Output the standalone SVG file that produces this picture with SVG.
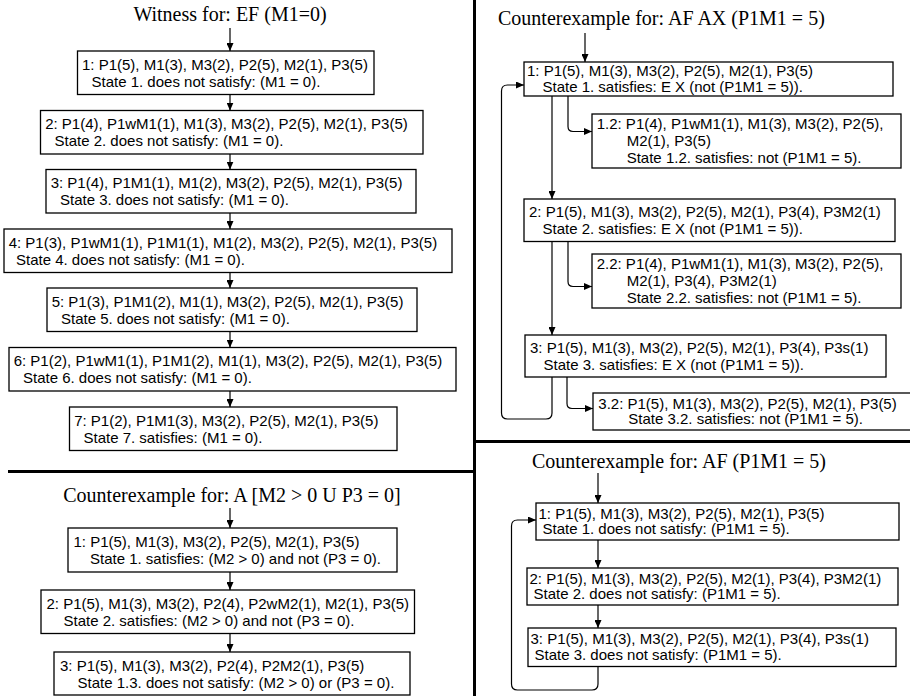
<svg xmlns="http://www.w3.org/2000/svg" width="910" height="696" viewBox="0 0 910 696">
<defs>
<marker id="ah" markerWidth="8" markerHeight="7" refX="8" refY="3.5" orient="auto" markerUnits="userSpaceOnUse">
<path d="M0,0 L8,3.5 L0,7 z" fill="#000"/>
</marker>
<style>
.box{fill:#fff;stroke:#000;stroke-width:1.3}
.t{font-family:"Liberation Sans",Arial,Helvetica,sans-serif;font-size:15px;fill:#000}
.title{font-family:"Liberation Serif","Times New Roman",serif;font-size:20px;fill:#000}
.a{fill:none;stroke:#000;stroke-width:1.2;marker-end:url(#ah)}
.div{stroke:#000;stroke-width:3;fill:none}
</style>
</defs>
<rect width="910" height="696" fill="#fff"/>

<g id="dividers">
<line class="div" x1="474.5" y1="0" x2="474.5" y2="696"/>
<line class="div" x1="8" y1="471.5" x2="474.5" y2="471.5"/>
<line class="div" x1="474.5" y1="441.5" x2="910" y2="441.5"/>
</g>

<g id="titles">
<text class="title" x="230" y="21" text-anchor="middle">Witness for: EF (M1=0)</text>
<text class="title" x="232" y="502" text-anchor="middle">Counterexample for: A [M2 &gt; 0 U P3 = 0]</text>
<text class="title" x="498" y="25">Counterexample for: AF AX (P1M1 = 5)</text>
<text class="title" x="532" y="468">Counterexample for: AF (P1M1 = 5)</text>
</g>

<g id="connectors">
<path class="a" d="M230,28 V51"/>
<path class="a" d="M230,94.5 V110.5"/>
<path class="a" d="M230,154 V169.5"/>
<path class="a" d="M230,213 V229"/>
<path class="a" d="M230,272.5 V288"/>
<path class="a" d="M230,331.5 V347.5"/>
<path class="a" d="M230,391 V407"/>
<path class="a" d="M230,508 V528"/>
<path class="a" d="M230,572 V590"/>
<path class="a" d="M230,633.5 V652"/>
<path class="a" d="M585,33 V62"/>
<path class="a" d="M552,96 V199"/>
<path class="a" d="M552,241.5 V335"/>
<path class="a" d="M568,96 V126.5 Q568,131.5 573,131.5 H592"/>
<path class="a" d="M568,241.5 V281.5 Q568,286.5 573,286.5 H592"/>
<path class="a" d="M567,377 V403.5 Q567,408.5 572,408.5 H593"/>
<path class="a" d="M552,377 V413 Q552,419 546,419 H507.5 Q501.5,419 501.5,413 V91 Q501.5,85 507.5,85 H524"/>
<path class="a" d="M598,473 V503"/>
<path class="a" d="M598,540 V568"/>
<path class="a" d="M598,605 V628"/>
<path class="a" d="M598,666.5 V684 Q598,690 592,690 H517.5 Q511.5,690 511.5,684 V526 Q511.5,520 517.5,520 H536"/>
</g>

<g id="w1"><rect class="box" x="77.5" y="51" width="296.5" height="43.5"/>
<text class="t" x="82" y="69.6">1: P1(5), M1(3), M3(2), P2(5), M2(1), P3(5)</text>
<text class="t" x="91.5" y="86.6">State 1. does not satisfy: (M1 = 0).</text></g>
<g id="w2"><rect class="box" x="40.5" y="110.5" width="382.5" height="43.5"/>
<text class="t" x="45.2" y="129.1">2: P1(4), P1wM1(1), M1(3), M3(2), P2(5), M2(1), P3(5)</text>
<text class="t" x="54.5" y="146.1">State 2. does not satisfy: (M1 = 0).</text></g>
<g id="w3"><rect class="box" x="46" y="169.5" width="370" height="43.5"/>
<text class="t" x="50.7" y="188.1">3: P1(4), P1M1(1), M1(2), M3(2), P2(5), M2(1), P3(5)</text>
<text class="t" x="60" y="205.1">State 3. does not satisfy: (M1 = 0).</text></g>
<g id="w4"><rect class="box" x="4" y="229" width="448" height="43.5"/>
<text class="t" x="8.7" y="247.6">4: P1(3), P1wM1(1), P1M1(1), M1(2), M3(2), P2(5), M2(1), P3(5)</text>
<text class="t" x="16" y="264.6">State 4. does not satisfy: (M1 = 0).</text></g>
<g id="w5"><rect class="box" x="47" y="288" width="370" height="43.5"/>
<text class="t" x="51.7" y="306.6">5: P1(3), P1M1(2), M1(1), M3(2), P2(5), M2(1), P3(5)</text>
<text class="t" x="61" y="323.6">State 5. does not satisfy: (M1 = 0).</text></g>
<g id="w6"><rect class="box" x="9" y="347.5" width="447" height="43.5"/>
<text class="t" x="13.7" y="366.1">6: P1(2), P1wM1(1), P1M1(2), M1(1), M3(2), P2(5), M2(1), P3(5)</text>
<text class="t" x="23" y="383.1">State 6. does not satisfy: (M1 = 0).</text></g>
<g id="w7"><rect class="box" x="69.5" y="407" width="327.5" height="43.5"/>
<text class="t" x="74.2" y="425.6">7: P1(2), P1M1(3), M3(2), P2(5), M2(1), P3(5)</text>
<text class="t" x="83.5" y="442.6">State 7. satisfies: (M1 = 0).</text></g>

<g id="a1"><rect class="box" x="68" y="528" width="329" height="44"/>
<text class="t" x="73.5" y="546.5">1: P1(5), M1(3), M3(2), P2(5), M2(1), P3(5)</text>
<text class="t" x="90" y="563.5">State 1. satisfies: (M2 &gt; 0) and not (P3 = 0).</text></g>
<g id="a2"><rect class="box" x="41" y="590" width="373.5" height="43.5"/>
<text class="t" x="46.5" y="608.5">2: P1(5), M1(3), M3(2), P2(4), P2wM2(1), M2(1), P3(5)</text>
<text class="t" x="63.5" y="625.5">State 2. satisfies: (M2 &gt; 0) and not (P3 = 0).</text></g>
<g id="a3"><rect class="box" x="54" y="652" width="356" height="43"/>
<text class="t" x="60" y="670.5">3: P1(5), M1(3), M3(2), P2(4), P2M2(1), P3(5)</text>
<text class="t" x="77.5" y="687.5">State 1.3. does not satisfy: (M2 &gt; 0) or (P3 = 0).</text></g>

<g id="r1"><rect class="box" x="524" y="62" width="369" height="34"/>
<text class="t" x="527" y="75.5">1: P1(5), M1(3), M3(2), P2(5), M2(1), P3(5)</text>
<text class="t" x="542.5" y="91.5">State 1. satisfies: E X (not (P1M1 = 5)).</text></g>
<g id="r1-2"><rect class="box" x="592" y="114" width="309" height="54"/>
<text class="t" x="596.7" y="129.4">1.2: P1(4), P1wM1(1), M1(3), M3(2), P2(5),</text>
<text class="t" x="626.7" y="146.4">M2(1), P3(5)</text>
<text class="t" x="626.7" y="163.4">State 1.2. satisfies: not (P1M1 = 5).</text></g>
<g id="r2"><rect class="box" x="524" y="199" width="371" height="42.5"/>
<text class="t" x="529" y="217.4">2: P1(5), M1(3), M3(2), P2(5), M2(1), P3(4), P3M2(1)</text>
<text class="t" x="542.5" y="234.4">State 2. satisfies: E X (not (P1M1 = 5)).</text></g>
<g id="r2-2"><rect class="box" x="592" y="254" width="309" height="54"/>
<text class="t" x="596.7" y="269.4">2.2: P1(4), P1wM1(1), M1(3), M3(2), P2(5),</text>
<text class="t" x="626.7" y="286.4">M2(1), P3(4), P3M2(1)</text>
<text class="t" x="626.7" y="303.4">State 2.2. satisfies: not (P1M1 = 5).</text></g>
<g id="r3"><rect class="box" x="525" y="335" width="361" height="42"/>
<text class="t" x="530" y="353.2">3: P1(5), M1(3), M3(2), P2(5), M2(1), P3(4), P3s(1)</text>
<text class="t" x="543.5" y="370.2">State 3. satisfies: E X (not (P1M1 = 5)).</text></g>
<g id="r3-2"><rect class="box" x="593" y="393" width="320" height="37"/>
<text class="t" x="598.3" y="408.7">3.2: P1(5), M1(3), M3(2), P2(5), M2(1), P3(5)</text>
<text class="t" x="628.3" y="424.2">State 3.2. satisfies: not (P1M1 = 5).</text></g>

<g id="b1"><rect class="box" x="536" y="503" width="363" height="37"/>
<text class="t" x="538.5" y="518.7">1: P1(5), M1(3), M3(2), P2(5), M2(1), P3(5)</text>
<text class="t" x="542.5" y="534.2">State 1. does not satisfy: (P1M1 = 5).</text></g>
<g id="b2"><rect class="box" x="527" y="568" width="371" height="37"/>
<text class="t" x="529.5" y="583.7">2: P1(5), M1(3), M3(2), P2(5), M2(1), P3(4), P3M2(1)</text>
<text class="t" x="533.5" y="599.2">State 2. does not satisfy: (P1M1 = 5).</text></g>
<g id="b3"><rect class="box" x="528" y="628" width="368" height="38.5"/>
<text class="t" x="530.5" y="644.2">3: P1(5), M1(3), M3(2), P2(5), M2(1), P3(4), P3s(1)</text>
<text class="t" x="534.5" y="660">State 3. does not satisfy: (P1M1 = 5).</text></g>
</svg>
